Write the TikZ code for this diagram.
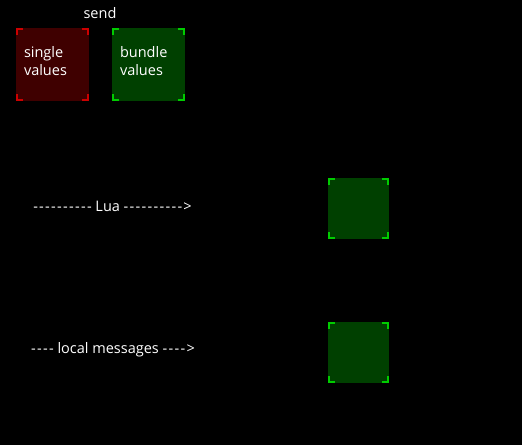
\documentclass[tikz,border=0pt]{standalone}
\usepackage{fontspec}
\setmainfont{Open Sans}[Ligatures=TeXOff]
\definecolor{redfill}{HTML}{3F0000}
\definecolor{redmark}{HTML}{CC0000}
\definecolor{greenfill}{HTML}{004000}
\definecolor{greenmark}{HTML}{00CC00}
\newcommand{\corners}[2]{%
  \draw[#2,line width=2pt]
    ([xshift=1pt,yshift=-7pt]#1.north west) |- ++(6pt,6pt)
    ([xshift=-1pt,yshift=-7pt]#1.north east) |- ++(-6pt,6pt)
    ([xshift=1pt,yshift=7pt]#1.south west) |- ++(6pt,-6pt)
    ([xshift=-1pt,yshift=7pt]#1.south east) |- ++(-6pt,-6pt);}
\newcommand{\wide}[1]{{\addfontfeature{LetterSpace=9}#1}}
\tikzset{
  box/.style={minimum width=#1, minimum height=#1, inner sep=0pt},
  redbox/.style={box=73pt, fill=redfill},
  greenbox/.style={box=#1, fill=greenfill},
  boxtext/.style={text=white, text width=57pt, align=left, font=\fontsize{14.5}{18}\selectfont},
  label/.style={text=white, inner sep=0pt, font=\fontsize{14.5}{18}\selectfont}
}
\begin{document}
\begin{tikzpicture}[x=1pt,y=-1pt]
  \fill[black] (0,0) rectangle (522,445);
  \node[label] (send) at (100,13) {send};
  \node[redbox] (single) at (52.5,64.5) {};
  \node[greenbox=73pt] (bundle) at (148.5,64.5) {};
  \node[greenbox=61pt] (lua) at (358.5,208.5) {};
  \node[greenbox=61pt] (local) at (358.5,352.5) {};
  \node[boxtext] (singletext) at ([yshift=3pt]single) {single\\values};
  \node[boxtext] (bundletext) at ([yshift=3pt]bundle) {bundle\\values};
  \node[label] (luaarrow) at (112.5,206) {\wide{----------} Lua \wide{---------->}};
  \node[label] (localarrow) at (113,350) {\wide{----} local messages \wide{---->}};
  \corners{single}{redmark}
  \corners{bundle}{greenmark}
  \corners{lua}{greenmark}
  \corners{local}{greenmark}
\end{tikzpicture}
\end{document}
